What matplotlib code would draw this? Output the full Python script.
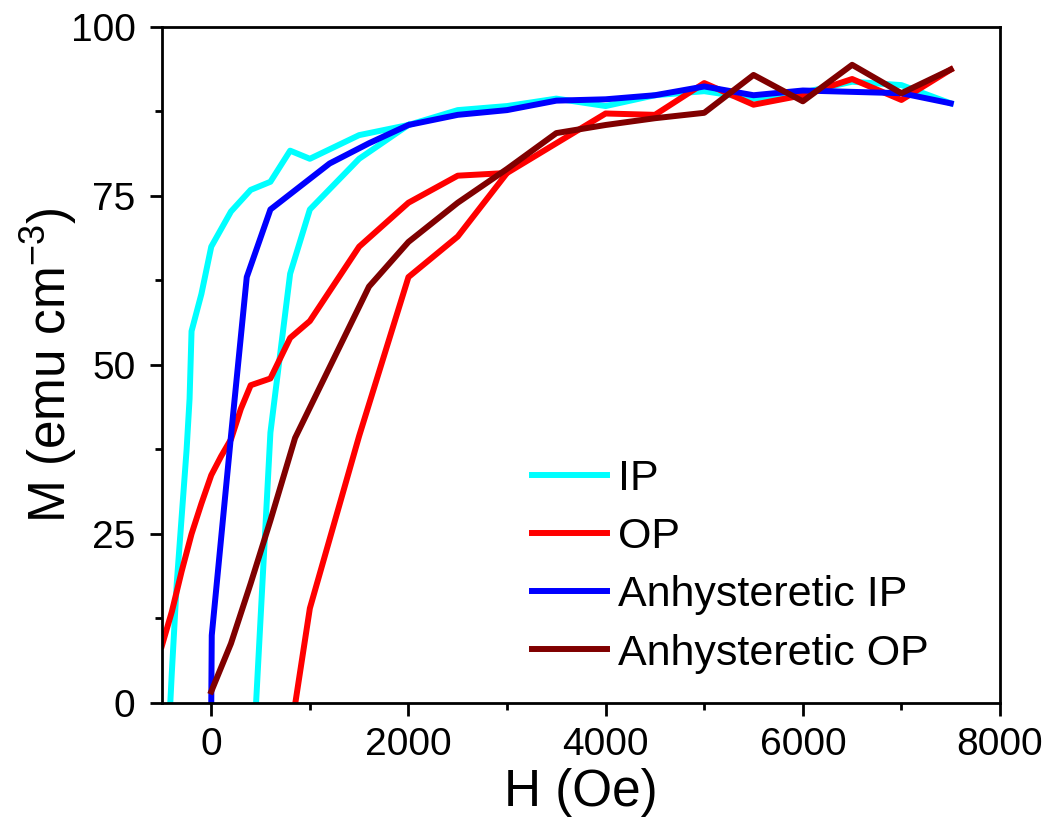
import numpy as np
import matplotlib
matplotlib.use("Agg")
import matplotlib.pyplot as plt
from matplotlib.ticker import MultipleLocator

plt.rcParams['font.family'] = ['Liberation Sans', 'DejaVu Sans']
plt.rcParams['mathtext.default'] = 'regular'

# IP loop (upper branch: field decreasing, lower branch: field increasing)
ip_up_h = [7500, 7000, 6500, 6000, 5500, 5000, 4500, 4000, 3500, 3000, 2500, 2000,
           1500, 1000, 800, 600, 400, 200, 0, -100, -200, -220, -250, -300, -350,
           -400, -450, -500]
ip_up_m = [88.7, 91.4, 91.9, 90.3, 89.4, 90.5, 89.9, 88.3, 89.4, 88.3, 87.7, 85.5,
           84.0, 80.5, 81.7, 77.1, 75.9, 72.7, 67.5, 60.5, 55.0, 45.0, 37.5, 27.6, 17.7,
           4.5, -10.0, -30.0]
ip_lo_h = [400, 600, 800, 1000, 1500, 2000]
ip_lo_m = [-15.0, 40.0, 63.5, 73.0, 80.5, 85.5]

# OP loop
op_up_h = [7500, 7000, 6500, 6000, 5500, 5000, 4500, 4000, 3500, 3000, 2500, 2000,
           1500, 1000, 800, 600, 400, 300, 200, 100, 0, -100, -200, -300, -400, -500]
op_up_m = [93.7, 89.2, 92.3, 89.9, 88.5, 91.7, 87.0, 87.2, 82.8, 78.4, 78.0, 74.0,
           67.5, 56.5, 54.0, 48.0, 47.0, 43.5, 39.0, 36.5, 33.7, 29.5, 25.0, 19.5, 13.5, 8.5]
op_lo_h = [800, 1000, 1500, 2000, 2500, 3000]
op_lo_m = [-5.0, 14.0, 39.5, 63.0, 69.0, 78.4]

# anhysteretic curves
an_ip_h = [0, 5, 200, 360, 600, 1200, 1600, 2000, 2500, 3000, 3500, 4000, 4500,
           5000, 5500, 6000, 6500, 7000, 7500]
an_ip_m = [0.0, 10.0, 39.5, 63.0, 73.0, 79.8, 82.8, 85.5, 87.0, 87.7, 89.1, 89.3, 89.9,
           91.2, 89.9, 90.6, 90.4, 90.2, 88.7]
an_op_h = [0, 200, 400, 600, 850, 1600, 2000, 2500, 3000, 3500, 4000, 4500, 5000,
           5500, 6000, 6500, 7000, 7500]
an_op_m = [1.7, 8.8, 17.7, 27.0, 39.2, 61.6, 68.2, 74.0, 79.0, 84.3, 85.5, 86.5, 87.3,
           92.9, 89.0, 94.4, 90.2, 93.7]

fig = plt.figure(figsize=(10.49, 8.22), dpi=100)
ax = fig.add_axes([0.1544, 0.1448, 0.7989, 0.8224])

lw = 4.3
ax.plot(ip_up_h, ip_up_m, color='#00FFFF', lw=lw, label='IP')
ax.plot(ip_lo_h, ip_lo_m, color='#00FFFF', lw=lw)
ax.plot(op_up_h, op_up_m, color='#FF0000', lw=lw, label='OP')
ax.plot(op_lo_h, op_lo_m, color='#FF0000', lw=lw)
ax.plot(an_ip_h, an_ip_m, color='#0000FF', lw=lw, label='Anhysteretic IP')
ax.plot(an_op_h, an_op_m, color='#800000', lw=lw, label='Anhysteretic OP')

ax.set_xlim(-500, 8000)
ax.set_ylim(0, 100)
ax.xaxis.set_major_locator(MultipleLocator(2000))
ax.xaxis.set_minor_locator(MultipleLocator(1000))
ax.yaxis.set_major_locator(MultipleLocator(25))
ax.yaxis.set_minor_locator(MultipleLocator(12.5))
ax.tick_params(which='major', direction='out', length=9, width=2, labelsize=28, pad=8)
ax.tick_params(which='minor', direction='out', length=5, width=2)
ax.tick_params(axis='y', which='major', pad=10)
for s in ax.spines.values():
    s.set_linewidth(2)

ax.set_xlabel('H (Oe)', fontsize=37, labelpad=4)
ax.set_ylabel('M (emu cm$^{-3}$)', fontsize=37, labelpad=-6)

ax.legend(loc='center left', bbox_to_anchor=(0.4415, 0.202), frameon=False,
          fontsize=31, handlelength=1.75, handletextpad=0.25, labelspacing=0.42,
          borderpad=0, borderaxespad=0)

fig.savefig('out.png', dpi=100)
